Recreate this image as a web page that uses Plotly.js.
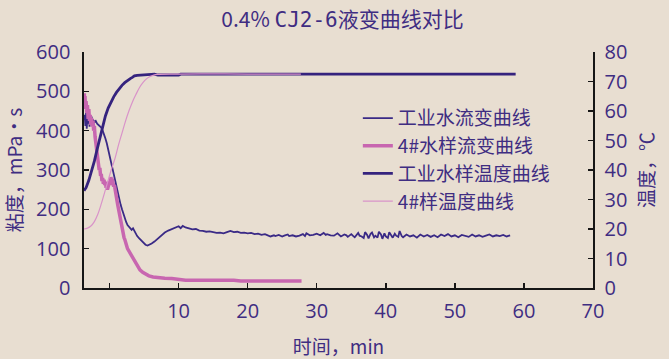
<!DOCTYPE html>
<html><head><meta charset="utf-8">
<script src="https://cdn.plot.ly/plotly-3.0.1.min.js"></script>
<style>html,body{margin:0;padding:0;background:#e8ded1;} #chart{width:669px;height:359px;}</style>
</head><body><div id="chart"></div>
<script>
const seriesNames = ['工业水流变曲线', '4#水样流变曲线', '工业水样温度曲线', '4#样温度曲线'];

// 工业水流变曲线 (time min, viscosity mPa·s)
const wViscT = [-3.7,-3.6,-3.5,-3.4,-3.3,-3.2,-3.1,-3.0,-2.9,-2.8,-2.7,-2.6,-2.5,-2.4,-2.2,-2.0,-1.8,-1.6,-1.4,-1.2,-1.0,-0.8,-0.6,-0.4,-0.2,0,0.2,0.4,0.6,0.8,1.0,1.2,1.4,1.6,1.8,2.0,2.2,2.4,2.6,2.8,3.0,3.2,3.4,3.6,3.8,4.0,4.3,4.6,4.9,5.2,5.5,5.8,6.1,6.5,7,7.5,8,8.5,9,9.5,10,10.3,10.6,11,11.5,12,12.5,13,13.5,14,14.5,15,15.5,16,16.5,17,17.5,18,18.5,19,19.5,20,20.5,21,21.5,22,22.5,23,23.3,23.8,24,24.5,25,25.3,25.8,26,26.5,27,27.5,28,28.3,28.5,29,29.5,30,30.5,31,31.3,31.5,32,32.5,33,33.5,34,34.3,34.5,35,35.3,35.5,36,36.2,36.5,36.8,37,37.3,37.5,37.8,38,38.3,38.5,38.8,39,39.3,39.5,39.8,40,40.3,40.5,40.8,41,41.3,41.5,41.8,42,42.3,42.5,43,43.5,44,44.5,45,45.5,46,46.5,47,47.5,48,48.5,49,49.5,50,50.5,51,51.5,52,52.5,53,53.5,54,54.5,55,55.5,56,56.5,57,57.5,58,58.5];
const wVisc = [428,440,412,445,405,438,418,442,410,432,420,436,415,428,422,425,418,415,412,408,400,392,380,368,352,338,322,305,290,272,255,240,226,212,200,188,178,168,160,155,150,148,152,145,138,132,126,120,114,110,108,110,113,118,126,134,141,146,150,153,157,152,158,154,151,149,150,146,145,143,144,141,140,141,139,142,145,142,143,140,141,139,140,137,138,135,137,133,131,134,132,135,131,133,136,132,134,131,133,137,132,139,134,135,138,134,140,135,137,134,133,139,131,136,134,130,137,132,129,140,133,131,127,142,135,126,138,141,129,133,128,143,136,125,139,131,127,142,134,128,138,133,130,145,132,129,136,131,134,128,136,131,135,130,134,129,136,132,137,131,134,129,135,133,130,136,131,134,130,133,136,131,134,132,135,131,134];

// 4#水样流变曲线
const sViscT = [-3.7,-3.65,-3.6,-3.55,-3.5,-3.4,-3.3,-3.2,-3.1,-3.0,-2.9,-2.8,-2.7,-2.6,-2.5,-2.4,-2.3,-2.2,-2.1,-2.0,-1.9,-1.8,-1.7,-1.6,-1.5,-1.4,-1.3,-1.2,-1.1,-1.0,-0.9,-0.8,-0.7,-0.6,-0.5,-0.4,-0.3,-0.2,-0.1,0,0.1,0.2,0.3,0.4,0.5,0.6,0.7,0.8,0.9,1.0,1.1,1.2,1.3,1.4,1.5,1.6,1.7,1.8,1.9,2.0,2.1,2.2,2.3,2.4,2.6,2.8,3.0,3.2,3.5,3.8,4.1,4.4,4.8,5.2,5.7,6.3,7,8,9,9.6,10,11,12,13,14,15,16,17,18,18.5,19,20,22,24,26,27.8];
const sVisc = [480,495,470,488,455,475,445,465,430,455,425,440,415,432,410,425,400,412,385,370,358,340,330,318,300,305,285,290,272,280,265,275,262,270,255,262,250,258,265,272,262,282,270,278,265,258,262,248,240,232,220,210,200,188,180,170,162,150,145,138,128,124,114,112,100,94,85,80,70,60,52,46,40,35,31,28,26,25,24,23,20.5,20,20,19.5,20,20,19.5,19.5,19.5,18,18,17.8,17.8,17.5,17.5,17.5];

// 工业水样温度曲线 (°C)
const wTempT = [-3.7,-3.4,-3.0,-2.6,-2.2,-1.8,-1.4,-1.0,-0.6,-0.2,0.2,0.6,1.0,1.4,1.8,2.2,2.6,3.0,3.3,3.6,4.0,5,6,6.5,7,10,10.3,15,20,30,40,50,58.8];
const wTemp = [33,34,36.5,39.5,43,47,51,55,58.3,61,63,64.8,66.3,67.6,68.7,69.6,70.4,71.0,71.4,71.9,72.1,72.3,72.5,72.5,72.2,72.2,72.5,72.5,72.5,72.5,72.5,72.5,72.5];

// 4#样温度曲线
const sTempT = [-3.7,-3.2,-2.7,-2.2,-1.7,-1.2,-0.7,-0.2,0.3,0.8,1.3,1.8,2.3,2.8,3.3,3.8,4.3,4.8,5.3,5.8,6.3,7,10,15,20,27.7];
const sTemp = [20,20.3,21,22.5,25,28.5,32.5,36.5,40.5,44,48.5,52.5,56.5,60,63,65.5,67.8,69.5,70.8,71.6,72.1,72.4,72.5,72.6,72.5,72.5];

const xTicks = [0,10,20,30,40,50,60,70];
const xTickText = ['', '10', '20', '30', '40', '50', '60', '70'];
const yTicks = [0,100,200,300,400,500,600];
const y2Ticks = [0,10,20,30,40,50,60,70,80];

const purple = '#3a2a86';
const textColor = '#3f2d82';
const bg = '#e8ded1';

const traces = [
  {x: wViscT, y: wVisc, name: seriesNames[0], type: 'scatter', mode: 'lines', line: {color: purple, width: 1.8}, yaxis: 'y'},
  {x: sViscT, y: sVisc, name: seriesNames[1], type: 'scatter', mode: 'lines', line: {color: '#c866b0', width: 3.5}, yaxis: 'y'},
  {x: wTempT, y: wTemp, name: seriesNames[2], type: 'scatter', mode: 'lines', line: {color: '#35237e', width: 2.8}, yaxis: 'y2'},
  {x: sTempT, y: sTemp, name: seriesNames[3], type: 'scatter', mode: 'lines', line: {color: '#d993c9', width: 1.2, shape: 'spline'}, yaxis: 'y2'}
];

const axisCommon = {
  showgrid: false, zeroline: false, showline: true, linecolor: '#161616', linewidth: 1.6,
  ticks: 'inside', ticklen: 5, tickwidth: 1.5, tickcolor: '#161616',
  tickfont: {family: 'Open Sans, sans-serif', size: 20, color: textColor}
};

const layout = {
  width: 669, height: 359,
  paper_bgcolor: bg, plot_bgcolor: bg,
  margin: {l: 84, r: 76, t: 52, b: 71},
  showlegend: true,
  title: {
    text: '0.4% <span style="font-family:DejaVu Sans Mono">CJ2-6</span>液变曲线对比',
    font: {family: 'Noto Sans CJK SC, sans-serif', size: 21, color: textColor},
    x: 0.512, xanchor: 'center', xref: 'container',
    y: 0.945, yanchor: 'middle', yref: 'container'
  },
  xaxis: Object.assign({}, axisCommon, {
    range: [-3.7, 70], tickmode: 'array', tickvals: xTicks, ticktext: xTickText,
    ticklabelstandoff: 4,
    title: {text: '时间，min', font: {family: 'Noto Sans CJK SC, sans-serif', size: 19, color: textColor}, standoff: 20}
  }),
  yaxis: Object.assign({}, axisCommon, {
    range: [0, 600], tickmode: 'array', tickvals: yTicks,
    ticklabelstandoff: 8,
    title: {text: '粘度，mPa·s', font: {family: 'Noto Sans CJK SC, sans-serif', size: 19, color: textColor}, standoff: 8}
  }),
  yaxis2: Object.assign({}, axisCommon, {
    range: [0, 80], tickmode: 'array', tickvals: y2Ticks,
    overlaying: 'y', side: 'right',
    ticklabelstandoff: 6,
    title: {text: '温度，℃', font: {family: 'Noto Sans CJK SC, sans-serif', size: 19, color: textColor}, standoff: 14}
  }),
  legend: {
    x: 0.538, xanchor: 'left', y: 0.80, yanchor: 'top',
    bgcolor: 'rgba(0,0,0,0)', borderwidth: 0,
    font: {family: 'Noto Sans CJK SC, sans-serif', size: 19, color: textColor},
    tracegroupgap: 0, itemwidth: 30
  }
};

Plotly.newPlot('chart', traces, layout, {displayModeBar: false, staticPlot: true});
</script></body></html>
